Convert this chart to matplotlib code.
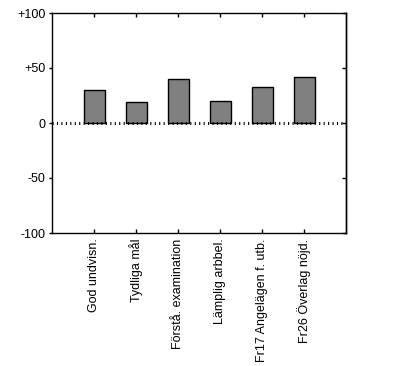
import matplotlib
matplotlib.use("Agg")
import matplotlib.pyplot as plt

categories = ["God undvisn.", "Tydliga mål", "Förstå. examination",
              "Lämplig arbbel.", "Fr17 Angelägen f. utb.", "Fr26 Överlag nöjd."]
values = [30, 19, 40, 20, 33, 42]
yticks = [-100, -50, 0, 50, 100]
ytick_labels = ["-100", "-50", "0", "+50", "+100"]

plt.rcParams['font.family'] = ['Liberation Sans', 'DejaVu Sans']
plt.rcParams['lines.scale_dashes'] = False

fig = plt.figure(figsize=(3.95, 3.66), dpi=100)
ax = fig.add_axes([52/395, 1-233/366, 294/395, 220/366])

pos = list(range(1, len(categories) + 1))
ax.bar(pos, values, width=0.5, color="#808080", edgecolor="black", linewidth=1, zorder=2)
ax.axhline(0, color="black", linewidth=2.2, dashes=(0.8, 2.4), zorder=3)

ax.set_xlim(0, len(categories) + 1)
ax.set_ylim(-100, 100)
ax.set_yticks(yticks)
ax.set_yticklabels(ytick_labels, fontsize=9)
ax.set_xticks(pos)
ax.set_xticklabels(categories, rotation=90, fontsize=9, va="top", ha="center")

ax.tick_params(axis="y", direction="out", length=2.5, width=1, left=True, right=False, pad=2)
ax.tick_params(axis="x", direction="in", length=3, width=1, top=True, bottom=True, pad=4)
for s in ax.spines.values():
    s.set_linewidth(1)

sec = ax.secondary_yaxis('right')
sec.set_yticks(yticks)
sec.tick_params(direction="in", length=3, width=1, labelright=False)
sec.spines['right'].set_linewidth(1)

fig.savefig("out.png", dpi=100)
